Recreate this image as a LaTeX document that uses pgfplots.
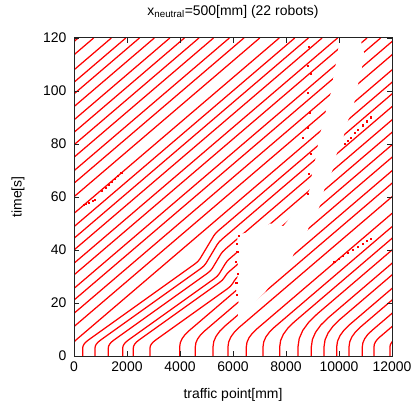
\documentclass[border=0pt]{standalone}
\usepackage{fontspec}
\setmainfont{Liberation Sans}
\usepackage{pgfplots}
\usepackage{pgfplotstable}
\pgfplotsset{compat=1.18}
\definecolor{trajred}{HTML}{FF0000}
\definecolor{frame}{HTML}{222222}
\newcommand\lbl{\fontsize{14}{16}\selectfont}

% robot trajectories: time [s], unwrapped position [mm] on the 12000 mm loop
\pgfplotstableread{
t x
0 328
3 328
3.75 341
4.5 381
5.25 446
6 538
34.68 4553
35.68 4673
36.68 4753
45.29 5270
46.29 5344
47.29 5447
120 13954
}\rA
\pgfplotstableread{
t x
0 792
3 792
3.75 805
4.5 845
5.25 910
6 1002
32.98 4779
33.98 4899
34.98 4979
42.02 5401
43.02 5475
44.02 5578
120 14469
}\rB
\pgfplotstableread{
t x
0 1294
3 1294
3.75 1307
4.5 1347
5.25 1412
6 1504
31.13 5022
32.13 5142
33.13 5222
38.36 5536
39.36 5610
40.36 5713
120 15030
}\rC
\pgfplotstableread{
t x
0 1838
3 1838
3.75 1851
4.5 1891
5.25 1956
6 2048
29.13 5286
30.13 5406
31.13 5486
34.83 5708
35.83 5782
36.83 5885
120 15615
}\rD
\pgfplotstableread{
t x
0 2238
3 2238
3.75 2251
4.5 2291
5.25 2356
6 2448
27.65 5479
28.65 5599
29.65 5679
30.14 5708
31.14 5782
32.14 5886
120 16165
}\rE
\pgfplotstableread{
t x
0 2868
3 2868
3.75 2881
4.5 2921
5.25 2986
6 3078
25.33 5784
26.33 5904
27.33 5984
28.28 6041
29.28 6115
30.28 6218
120 16715
}\rF
\pgfplotstableread{
t x
0 3989
3.5 3989
5.02 4011
6.53 4078
8.05 4188
9.56 4344
120 17265
}\rG
\pgfplotstableread{
t x
0 4578
3.5 4578
4.98 4600
6.46 4665
7.94 4773
9.42 4924
120 17862
}\rH
\pgfplotstableread{
t x
0 5246
3.5 5246
5.49 5275
7.47 5362
9.46 5507
11.44 5711
120 18412
}\rI
\pgfplotstableread{
t x
0 5811
3.5 5811
5.35 5838
7.2 5919
9.05 6055
10.9 6244
120 19008
}\rJ
\pgfplotstableread{
t x
0 6503
3.5 6503
5.16 6527
6.82 6600
8.48 6722
10.14 6891
120 19745
}\rK
\pgfplotstableread{
t x
0 7133
3.5 7133
5.35 7160
7.2 7241
9.05 7377
10.9 7566
120 20330
}\rL
\pgfplotstableread{
t x
0 7763
3.5 7763
5.85 7797
8.19 7900
10.54 8072
12.88 8312
120 20845
}\rM
\pgfplotstableread{
t x
0 8453
3.5 8453
6.59 8498
9.68 8634
12.77 8860
15.86 9176
120 21360
}\rN
\pgfplotstableread{
t x
0 8956
3.5 8956
6.24 8996
8.98 9116
11.72 9317
14.46 9597
120 21945
}\rO
\pgfplotstableread{
t x
0 9435
3.5 9435
6.09 9473
8.68 9587
11.27 9776
13.86 10041
120 22460
}\rP
\pgfplotstableread{
t x
0 9914
3.5 9914
5.59 9944
7.67 10036
9.76 10188
11.84 10402
120 23057
}\rQ
\pgfplotstableread{
t x
0 10378
3.5 10378
5.37 10405
7.24 10487
9.11 10624
10.98 10816
120 23571
}\rR
\pgfplotstableread{
t x
0 10880
3.5 10880
5.02 10902
6.53 10969
8.05 11079
9.56 11235
120 24156
}\rS
\pgfplotstableread{
t x
0 11321
3.5 11321
4.4 11334
5.3 11374
6.2 11440
7.1 11532
120 24741
}\rT
\pgfplotstableread{
t x
0 11925
3.5 11925
4.13 11934
4.76 11962
5.39 12008
6.02 12072
120 25408
}\rU

% each lap is drawn again one loop length back
\newcommand\robot[1]{%
  \addplot[traj] table[x=x, y=t]{#1};
  \addplot[traj] table[x expr=\thisrow{x}-12000, y=t]{#1};
  \addplot[traj] table[x expr=\thisrow{x}-24000, y=t]{#1};
}

\begin{document}
\begin{tikzpicture}
\useasboundingbox (-74bp,-52bp) rectangle (339bp,356bp);
\begin{axis}[
  at={(0,0)}, anchor=south west,
  width=318bp, height=318bp, scale only axis,
  xmin=0, xmax=12000, ymin=0, ymax=120,
  xtick={0,2000,...,12000}, ytick={0,20,...,120},
  scaled x ticks=false,
  /pgf/number format/1000 sep={},
  /pgf/number format/assume math mode=true,
  tick align=inside, major tick length=5bp,
  tick style={frame, line width=0.8bp},
  axis line style={frame, line width=1bp},
  axis on top,
  tick label style={font=\lbl},
  yticklabel style={xshift=-4bp},
  xticklabel style={yshift=-2bp},
  title={x\textsubscript{neutral}=500[mm] (22 robots)},
  title style={font=\lbl, at={(0.5,1.0535)}, anchor=base},
  xlabel={traffic point[mm]},
  xlabel style={font=\lbl, at={(0.5,-0.1352)}, anchor=base},
  ylabel={time[s]},
  ylabel style={font=\lbl, at={(-0.176,0.5)}, anchor=center},
  traj/.style={trajred, line width=1.25bp, line join=round},
]
\robot\rA \robot\rB \robot\rC \robot\rD \robot\rE \robot\rF \robot\rG
\robot\rH \robot\rI \robot\rJ \robot\rK \robot\rL \robot\rM \robot\rN
\robot\rO \robot\rP \robot\rQ \robot\rR \robot\rS \robot\rT \robot\rU

% stretch where the position samples were lost
\addplot[fill=white, draw=none] coordinates {
  (6150,12) (6230,19) (6120,25) (6200,33) (6130,40) (6180,46) (6900,47)
  (7400,50) (7900,49) (8300,54) (8650,58) (8900,63) (9000,70) (9150,76)
  (9250,83) (9450,89) (9550,95) (9750,101) (9800,107) (9950,113) (10000,120)
  (10800,120) (10950,114) (10850,108) (10650,100) (10550,94) (10300,88)
  (10150,82) (9900,76) (9750,70) (9450,63) (9250,56) (8900,50) (8700,44)
  (8350,40) (8150,35) (7700,31) (7200,24) (6700,19)};

% the few samples that survived there
\addplot[only marks, mark=square*, mark size=0.55bp, trajred] coordinates {
  (6150,23) (6120,27.5) (6180,31) (6100,35.5) (6160,39.2) (6130,42.5) (6200,45.5)
  (8805,61.1) (8868,68.7) (8931,76.2) (8616,82.5) (8805,86.3) (8900,92)
  (8805,99.5) (8931,106.5) (8805,109.7) (8868,116.6)
  (10200,80.1) (10320,81.3) (10440,82.5) (10600,84.1) (10720,85.3)
  (10900,87.1) (11050,88.6) (11200,90.1)
  (9820,35.7) (9980,36.7) (10150,37.8) (10330,38.9) (10520,40.1)
  (10700,41.3) (10880,42.4) (11050,43.5) (11195,44.4)
  (350,57.2) (450,57.6) (560,58) (700,58.5) (790,58.9)
  (1060,62.5) (1180,63.6) (1300,64.7) (1420,65.8) (1540,66.9)
  (1660,68) (1780,69.1)};
\end{axis}
\end{tikzpicture}
\end{document}
